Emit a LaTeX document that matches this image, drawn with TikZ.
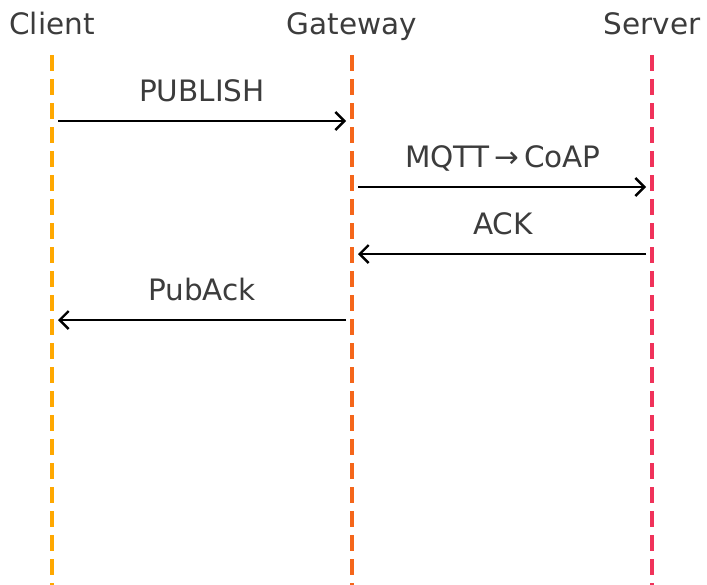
\documentclass[tikz,border=0pt]{standalone}
\usepackage{fontspec}
\setmainfont{DejaVu Sans}
\usetikzlibrary{arrows.meta}
\definecolor{clientc}{HTML}{FFA800}
\definecolor{gatec}{HTML}{F5661A}
\definecolor{serverc}{HTML}{F0325A}
\definecolor{txt}{HTML}{3C3C3C}
\begin{document}
\begin{tikzpicture}[x=1pt,y=-1pt,
  head/.style={text=txt,font=\fontsize{29.5}{34}\selectfont,inner sep=0pt,anchor=base},
  lbl/.style={text=txt,font=\fontsize{29.5}{34}\selectfont,inner sep=0pt,anchor=base},
  life/.style={line width=3.2pt,dash pattern=on 16pt off 8pt},
  msg/.style={line width=2.4pt,black,-{Straight Barb[length=9pt,width=18pt,line width=2.4pt]},shorten <=6pt,shorten >=6pt}]
\useasboundingbox (0,0) rectangle (707,584);
\node[head] (hc) at (52,34) {Client};
\node[head] (hg) at (352,34) {Gateway};
\node[head] (hs) at (652,34) {Server};
\coordinate (ct) at (52,55); \coordinate (cb) at (52,590);
\coordinate (gt) at (352,55); \coordinate (gb) at (352,590);
\coordinate (st) at (652,55); \coordinate (sb) at (652,590);
\draw[life,clientc] (ct) -- (cb);
\draw[life,gatec] (gt) -- (gb);
\draw[life,serverc] (st) -- (sb);
\coordinate (c1) at (52,121); \coordinate (g1) at (352,121);
\coordinate (g2) at (352,187); \coordinate (s2) at (652,187);
\coordinate (s3) at (652,254); \coordinate (g3) at (352,254);
\coordinate (g4) at (352,320); \coordinate (c4) at (52,320);
\draw[msg] (c1) -- (g1);
\draw[msg] (g2) -- (s2);
\draw[msg] (s3) -- (g3);
\draw[msg] (g4) -- (c4);
\node[lbl] (l1) at (202,101) {PUBLISH};
\node[lbl] (l2) at (503,167) {MQTT\,→\,CoAP};
\node[lbl] (l3) at (503,234) {ACK};
\node[lbl] (l4) at (202,300) {PubAck};
\end{tikzpicture}
\end{document}
